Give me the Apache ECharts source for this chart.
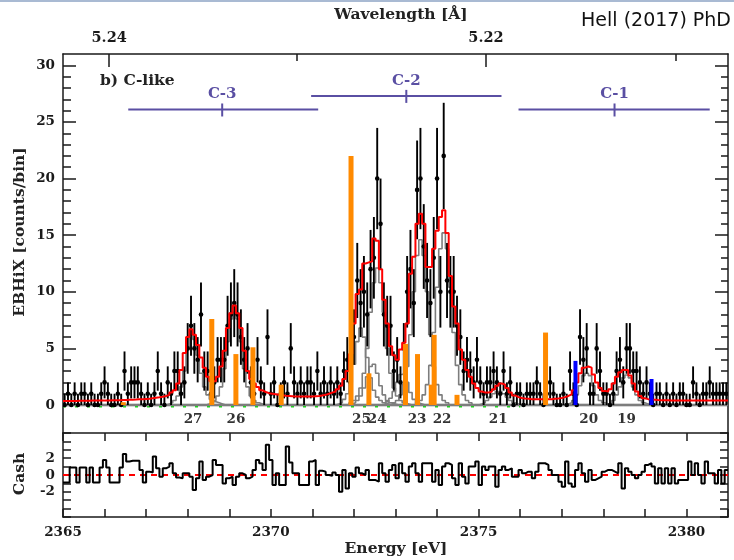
<!DOCTYPE html>
<html>
<head>
<meta charset="utf-8">
<script src="https://cdn.jsdelivr.net/npm/echarts@6/dist/echarts.min.js"></script>
<style>
html,body{margin:0;padding:0;background:#fff;}
#chart{width:734px;height:560px;}
</style>
</head>
<body>
<div id="chart"></div>
<script>
// Binning of the EBHiX spectrum (energy in eV)
const binStart = 2365.0;
const binWidth = 0.08;

// Measured counts per bin
const counts = [
  0,1,0,1,0,1,1,0,1,0,
  0,1,2,1,0,0,1,0,3,1,
  2,2,2,1,0,1,0,1,3,1,
  0,2,1,3,3,1,2,5,7,5,
  4,8,3,3,1,2,4,4,4,7,
  8,9,8,6,4,5,2,1,4,2,
  1,6,1,2,0,1,2,1,5,2,
  1,2,1,2,2,1,3,1,2,1,
  2,1,2,1,3,4,2,6,11,9,
  10,8,12,13,20,16,8,7,7,3,
  4,2,5,10,12,9,19,20,14,11,
  9,13,20,10,22,11,10,10,7,6,
  3,4,3,2,4,2,1,2,2,3,
  2,1,3,1,2,0,1,1,0,1,
  1,1,2,1,0,1,2,1,0,0,
  1,0,3,1,0,6,4,5,1,1,
  5,3,1,1,0,1,3,4,2,5,
  5,3,3,2,1,2,1,0,1,1,
  0,1,0,1,0,1,1,0,0,2,
  1,0,1,1,2,1,1,1,1,1
];

// Total fitted model per bin
const model = [
  0.35,0.35,0.36,0.36,0.37,0.37,0.38,0.38,0.39,0.39,
  0.40,0.40,0.41,0.41,0.42,0.42,0.43,0.44,0.45,0.46,
  0.47,0.48,0.50,0.52,0.54,0.56,0.60,0.64,0.68,0.73,
  0.80,0.90,1.10,1.30,1.90,3.10,4.60,6.00,6.70,6.20,
  5.30,4.20,3.30,2.50,2.10,2.10,2.50,3.40,4.80,6.80,
  8.10,8.80,8.10,6.80,4.80,3.00,2.30,1.90,1.60,1.30,
  1.15,1.05,1.00,0.95,0.90,0.86,0.82,0.80,0.78,0.76,
  0.75,0.75,0.75,0.75,0.76,0.78,0.80,0.85,0.90,1.00,
  1.10,1.20,1.40,1.70,2.30,3.00,4.50,7.20,9.80,10.20,
  12.50,12.60,12.70,14.70,14.50,12.00,9.30,7.20,5.20,4.40,
  4.00,4.90,5.50,7.20,11.60,13.10,16.00,16.90,16.00,12.20,
  12.20,13.80,15.40,16.60,17.20,15.20,11.40,8.70,7.20,4.90,
  4.00,3.10,2.50,1.90,1.50,1.20,1.10,1.10,1.20,1.40,
  1.70,1.90,1.80,1.50,1.10,0.85,0.70,0.62,0.58,0.55,
  0.52,0.50,0.50,0.50,0.50,0.50,0.52,0.55,0.58,0.62,
  0.70,0.80,0.95,1.30,2.00,2.80,3.30,3.40,3.30,2.70,
  2.00,1.50,1.25,1.20,1.40,1.90,2.50,2.90,3.10,3.10,
  2.60,1.90,1.20,0.80,0.60,0.52,0.48,0.46,0.44,0.43,
  0.42,0.42,0.41,0.41,0.40,0.40,0.40,0.40,0.40,0.40,
  0.40,0.40,0.40,0.40,0.40,0.40,0.40,0.40,0.40,0.40
];

// Cash residuals per bin
const residuals = [
  -0.9,-0.9,0.9,0.9,-0.9,0.9,0.9,-0.9,0.9,-0.9,
  -0.9,0.9,1.8,0.9,-0.9,-0.9,-0.9,0.9,2.5,1.6,
  1.7,1.7,1.7,0.6,-0.9,0.4,0.3,2.2,0.8,-0.2,
  0.8,1.0,1.4,0.2,-0.3,-0.4,0.2,0.2,-0.2,-1.8,
  -0.4,1.6,-0.6,-0.2,0.0,1.8,1.2,1.2,-1.0,-0.4,
  -0.2,-1.2,-0.2,0.2,0.0,-0.4,-0.2,0.6,1.8,1.4,
  0.6,3.6,1.8,-1.2,0.2,-1.2,-1.2,3.4,1.5,0.2,
  0.2,-1.2,-1.2,-1.2,1.6,1.8,-1.2,0.5,0.4,0.0,
  -0.1,0.3,0.0,-2.0,0.6,-1.6,0.2,-0.2,0.9,0.2,
  0.0,0.6,-0.6,-0.6,-0.8,1.4,0.2,-0.8,0.6,1.2,
  -0.4,1.4,0.2,-0.8,1.0,1.4,0.2,-0.8,1.4,1.4,
  1.4,-0.8,0.6,-1.2,1.0,1.4,1.2,-0.4,-1.2,1.4,
  -0.2,-1.0,1.0,1.0,1.6,-1.2,1.0,0.6,1.0,1.0,
  -1.4,0.6,1.0,0.6,0.8,-0.2,-0.2,0.6,0.2,0.4,
  0.4,-0.4,0.4,1.4,1.4,1.2,0.6,0.0,0.0,-0.8,
  -1.4,1.6,-1.0,-1.4,0.6,1.4,0.2,-0.8,0.6,-0.6,
  -0.4,-0.2,0.4,0.6,0.6,0.4,0.2,1.4,-1.6,0.8,
  0.4,0.0,-0.4,0.0,0.4,1.2,1.4,1.0,-1.0,0.8,
  -1.0,0.8,-1.0,0.8,-1.0,-0.6,-0.6,-0.6,1.6,0.0,
  1.4,0.0,-1.0,1.6,0.2,0.2,-1.0,0.6,-1.0,0.6
];

// Individual line components: first bin and per-bin values
const componentStart = [31, 43, 82, 86, 86, 96, 99, 106, 125, 151, 163];
const componentValues = [
  [0.1,0.2,0.4,0.8,1.6,3.0,4.9,6.2,5.8,4.4,2.8,1.6,0.9,0.5,0.3,0.2,0.1],
  [0.1,0.2,0.4,0.8,1.6,3.2,5.6,7.6,8.2,7.6,5.6,3.2,1.6,0.8,0.4,0.2,0.1],
  [0.1,0.2,0.5,1.0,2.0,3.6,5.6,6.8,6.0,4.2,2.4,1.3,0.7,0.4,0.2,0.1],
  [0.1,0.2,0.4,0.8,1.5,2.5,3.4,3.6,2.8,1.7,0.9,0.4,0.2,0.1],
  [0.2,0.4,0.8,1.5,2.8,5.0,8.2,10.8,12.1,10.8,8.2,5.0,2.8,1.5,0.8,0.4,0.2,0.1],
  [0.1,0.3,0.6,1.2,2.0,2.7,2.8,2.0,1.1,0.5,0.2,0.1],
  [0.2,0.4,0.9,1.8,3.4,6.2,10.0,13.2,14.6,13.2,10.0,6.2,3.4,1.8,0.9,0.4,0.2],
  [0.2,0.4,0.9,1.8,3.5,6.4,10.4,13.8,15.2,13.8,10.4,6.4,3.5,1.8,0.9,0.4,0.2],
  [0.1,0.2,0.4,0.7,1.0,1.2,1.2,1.0,0.7,0.4,0.2,0.1],
  [0.1,0.2,0.4,0.9,1.7,2.6,2.8,2.6,1.7,0.9,0.4,0.2,0.1],
  [0.1,0.2,0.4,0.9,1.6,2.4,2.65,2.4,1.6,0.9,0.4,0.2,0.1]
];

// Theoretical line positions (eV) and strengths
const orangeE = [2366.45, 2368.58, 2369.16, 2369.57, 2370.25, 2371.93, 2372.36, 2373.24, 2373.53, 2373.86, 2373.93, 2374.48, 2376.61];
const orangeH = [0.25, 7.6, 4.5, 5.1, 1.8, 22.0, 2.8, 5.4, 4.5, 1.8, 6.2, 0.9, 6.4];
const blueE = [2377.33, 2379.16];
const blueH = [3.9, 2.3];

// Line identifications
const lineIds = ['27', '26', '25', '24', '23', '22', '21', '20', '19'];
const lineIdE = [2368.13, 2369.16, 2372.18, 2372.56, 2373.52, 2374.12, 2375.47, 2377.65, 2378.56];
const lineIdY = -1.32;

// Charge-state groups
const groupNames = ['C-3', 'C-2', 'C-1'];
const groupCenter = [2368.83, 2373.26, 2378.27];
const groupLow = [2366.57, 2370.97, 2375.96];
const groupHigh = [2371.14, 2375.55, 2380.56];
const groupLevel = [26.1, 27.3, 26.1];

// Axis ticks
const energyMin = 2365, energyMax = 2381;
const countTicksMajor = [0, 5, 10, 15, 20, 25, 30];
const countTicksMinor = [1,2,3,4,6,7,8,9,11,12,13,14,16,17,18,19,21,22,23,24,26,27,28,29];
const wavelengthMajor = [5.24, 5.22];
const wavelengthMinor = [5.23, 5.21];
const cashLabels = [-2, 0, 2];

const hc = 12398.42; // eV * Angstrom
const serif = '"DejaVu Serif"';
const axisColor = '#1a1a1a';
const groupColor = '#5a4fa3';

function binEdge(i) { return binStart + i * binWidth; }
function binCenter(i) { return binStart + (i + 0.5) * binWidth; }

// Histogram outline: points on left bin edges plus closing right edge
function histogram(values, start) {
  const pts = values.map((v, i) => [binEdge(start + i), v]);
  pts.push([binEdge(start + values.length), values[values.length - 1]]);
  return pts;
}
function padded(start, values) {
  const arr = new Array(counts.length).fill(0);
  values.forEach((v, i) => { arr[start + i] = v; });
  return arr;
}

const chart = echarts.init(document.getElementById('chart'), null, { renderer: 'canvas' });

const tickFont = { fontFamily: serif, fontWeight: 'bold', fontSize: 13.5, color: axisColor };
const tickLine = { color: axisColor, width: 1.5 };

function xAxisDef(grid, position, opts) {
  return Object.assign({
    type: 'value', gridIndex: grid, position: position, min: energyMin, max: energyMax,
    axisLine: { show: true, onZero: false, lineStyle: tickLine },
    axisTick: { show: false },
    axisLabel: { show: false },
    splitLine: { show: false }
  }, opts);
}
function yAxisDef(grid, position, min, max, opts) {
  return Object.assign({
    type: 'value', gridIndex: grid, position: position, min: min, max: max,
    axisLine: { show: true, onZero: false, lineStyle: tickLine },
    axisTick: { show: false },
    axisLabel: { show: false },
    splitLine: { show: false }
  }, opts);
}

const componentSeries = componentValues.map((vals, k) => ({
  type: 'line', xAxisIndex: 0, yAxisIndex: 0, step: 'end', showSymbol: false, silent: true,
  data: histogram(padded(componentStart[k], vals), 0),
  lineStyle: { color: '#7d7d7d', width: 1.6 }, z: 2, clip: true
}));

function barRenderer(width, color) {
  return function (params, api) {
    const e = api.value(0), h = api.value(1);
    const p0 = api.coord([e, 0]);
    const p1 = api.coord([e, h]);
    return {
      type: 'rect',
      shape: { x: p0[0] - width / 2, y: p1[1], width: width, height: p0[1] - p1[1] },
      style: { fill: color }
    };
  };
}

const option = {
  animation: false,
  backgroundColor: '#ffffff',
  grid: [
    { left: 63, right: 6, top: 54, height: 379, containLabel: false },
    { left: 63, right: 6, top: 433, height: 84, containLabel: false }
  ],
  xAxis: [
    xAxisDef(0, 'bottom', { show: false }),
    xAxisDef(0, 'top', {
      axisTick: { show: true, inside: true, length: 13, customValues: wavelengthMajor.map(w => hc / w), lineStyle: tickLine },
      axisLabel: { show: true, margin: 8, customValues: wavelengthMajor.map(w => hc / w), formatter: v => (hc / v).toFixed(2), ...tickFont, fontSize: 14.5 }
    }),
    xAxisDef(0, 'top', {
      axisLine: { show: false, onZero: false },
      axisTick: { show: true, inside: true, length: 7, customValues: wavelengthMinor.map(w => hc / w), lineStyle: tickLine }
    }),
    xAxisDef(1, 'bottom', {
      interval: 1,
      axisTick: { show: true, inside: true, length: 8, lineStyle: tickLine },
      axisLabel: { show: true, margin: 8, formatter: v => (v % 5 === 0 ? String(v) : ''), ...tickFont }
    }),
    xAxisDef(1, 'top', {
      interval: 1,
      axisTick: { show: true, inside: true, length: 8, lineStyle: tickLine }
    })
  ],
  yAxis: [
    yAxisDef(0, 'left', -2.47, 31, {
      axisTick: { show: true, inside: true, length: 13, customValues: countTicksMajor, lineStyle: tickLine },
      axisLabel: { show: true, margin: 8, customValues: countTicksMajor, ...tickFont }
    }),
    yAxisDef(0, 'left', -2.47, 31, {
      axisLine: { show: false, onZero: false },
      axisTick: { show: true, inside: true, length: 8, customValues: countTicksMinor, lineStyle: tickLine }
    }),
    yAxisDef(0, 'right', -2.47, 31, {
      axisTick: { show: true, inside: true, length: 13, customValues: countTicksMajor, lineStyle: tickLine }
    }),
    yAxisDef(0, 'right', -2.47, 31, {
      axisLine: { show: false, onZero: false },
      axisTick: { show: true, inside: true, length: 7, customValues: countTicksMinor, lineStyle: tickLine }
    }),
    yAxisDef(1, 'left', -5, 5, {
      interval: 1,
      axisTick: { show: true, inside: true, length: 8, lineStyle: tickLine },
      axisLabel: { show: true, margin: 8, customValues: cashLabels, ...tickFont }
    }),
    yAxisDef(1, 'right', -5, 5, {
      interval: 1,
      axisTick: { show: true, inside: true, length: 8, lineStyle: tickLine }
    })
  ],
  series: [
    // zero baseline of the components
    {
      type: 'line', xAxisIndex: 0, yAxisIndex: 0, showSymbol: false, silent: true,
      data: [[energyMin, 0], [energyMax, 0]],
      lineStyle: { color: '#5e5e5e', width: 2.5 }, z: 1
    },
    {
      type: 'line', xAxisIndex: 0, yAxisIndex: 0, showSymbol: false, silent: true,
      data: [[energyMin, -0.12], [2376.0, -0.12]],
      lineStyle: { color: '#22cc22', width: 2, type: [3, 9] }, z: 1
    },
    ...componentSeries,
    // measured data with Poisson error bars
    {
      type: 'custom', xAxisIndex: 0, yAxisIndex: 0, silent: true, clip: true, z: 3,
      data: counts.map((n, i) => [binCenter(i), n, n > 0 ? n - Math.sqrt(n) : 0, n > 0 ? n + Math.sqrt(n) : 1]),
      renderItem: function (params, api) {
        const e = api.value(0);
        const p = api.coord([e, api.value(1)]);
        const lo = api.coord([e, api.value(2)]);
        const hi = api.coord([e, api.value(3)]);
        return {
          type: 'group',
          children: [
            { type: 'line', shape: { x1: p[0], y1: lo[1], x2: p[0], y2: hi[1] }, style: { stroke: '#000', lineWidth: 1.9 } },
            { type: 'circle', shape: { cx: p[0], cy: p[1], r: 2.3 }, style: { fill: '#000' } }
          ]
        };
      }
    },
    // total model
    {
      type: 'line', xAxisIndex: 0, yAxisIndex: 0, step: 'end', showSymbol: false, silent: true,
      data: histogram(model, 0),
      lineStyle: { color: '#ff0000', width: 2 }, z: 4
    },
    // theoretical line strengths
    {
      type: 'custom', xAxisIndex: 0, yAxisIndex: 0, silent: true, clip: true, z: 5,
      data: orangeE.map((e, i) => [e, orangeH[i]]),
      renderItem: barRenderer(5, '#ff8a00')
    },
    {
      type: 'custom', xAxisIndex: 0, yAxisIndex: 0, silent: true, clip: true, z: 5,
      data: blueE.map((e, i) => [e, blueH[i]]),
      renderItem: barRenderer(4, '#0000ff')
    },
    // line identification numbers
    {
      type: 'custom', xAxisIndex: 0, yAxisIndex: 0, silent: true, z: 6,
      data: lineIdE.map((e, i) => [e, lineIdY, i]),
      renderItem: function (params, api) {
        const p = api.coord([api.value(0), api.value(1)]);
        return {
          type: 'text', x: p[0], y: p[1],
          style: {
            text: lineIds[api.value(2)], fill: '#333',
            font: 'bold 13.5px ' + serif, align: 'center', verticalAlign: 'middle',
            textAlign: 'center', textVerticalAlign: 'middle'
          }
        };
      }
    },
    // charge-state group markers
    {
      type: 'custom', xAxisIndex: 0, yAxisIndex: 0, silent: true, z: 6,
      data: groupCenter.map((c, i) => [c, groupLevel[i], groupLow[i], groupHigh[i], i]),
      renderItem: function (params, api) {
        const y = api.value(1);
        const pc = api.coord([api.value(0), y]);
        const pl = api.coord([api.value(2), y]);
        const ph = api.coord([api.value(3), y]);
        return {
          type: 'group',
          children: [
            { type: 'line', shape: { x1: pl[0], y1: pl[1], x2: ph[0], y2: ph[1] }, style: { stroke: groupColor, lineWidth: 2 } },
            { type: 'line', shape: { x1: pc[0], y1: pc[1] - 6, x2: pc[0], y2: pc[1] + 7 }, style: { stroke: groupColor, lineWidth: 2 } },
            {
              type: 'text', x: pc[0], y: pc[1] - 15,
              style: {
                text: groupNames[api.value(4)], fill: groupColor,
                font: 'bold 15px ' + serif, align: 'center', verticalAlign: 'middle',
                textAlign: 'center', textVerticalAlign: 'middle'
              }
            }
          ]
        };
      }
    },
    // Cash residuals
    {
      type: 'line', xAxisIndex: 3, yAxisIndex: 4, showSymbol: false, silent: true,
      data: [[energyMin, 0], [energyMax, 0]],
      lineStyle: { color: '#ff0000', width: 2, type: [6, 5] }, z: 2
    },
    {
      type: 'line', xAxisIndex: 3, yAxisIndex: 4, step: 'end', showSymbol: false, silent: true,
      data: histogram(residuals, 0),
      lineStyle: { color: '#000', width: 2 }, z: 3
    }
  ],
  graphic: [
    { type: 'rect', left: 0, top: 0, shape: { width: 734, height: 2 }, style: { fill: '#a9bad3' } },
    {
      type: 'text', x: 731, y: 21,
      style: { text: 'Hell (2017) PhD', font: '19px "DejaVu Sans"', fill: '#111', align: 'right', verticalAlign: 'middle', textAlign: 'right', textVerticalAlign: 'middle' }
    },
    {
      type: 'text', x: 401, y: 15,
      style: { text: 'Wavelength [Å]', font: 'bold 15.5px ' + serif, fill: '#222', align: 'center', verticalAlign: 'middle', textAlign: 'center', textVerticalAlign: 'middle' }
    },
    {
      type: 'text', x: 100, y: 81,
      style: { text: 'b) C-like', font: 'bold 15.5px ' + serif, fill: '#222', align: 'left', verticalAlign: 'middle', textAlign: 'left', textVerticalAlign: 'middle' }
    },
    {
      type: 'text', x: 20, y: 232, rotation: Math.PI / 2,
      style: { text: 'EBHiX [counts/bin]', font: 'bold 15.5px ' + serif, fill: '#222', align: 'center', verticalAlign: 'middle', textAlign: 'center', textVerticalAlign: 'middle' }
    },
    {
      type: 'text', x: 20, y: 474, rotation: Math.PI / 2,
      style: { text: 'Cash', font: 'bold 15.5px ' + serif, fill: '#222', align: 'center', verticalAlign: 'middle', textAlign: 'center', textVerticalAlign: 'middle' }
    },
    {
      type: 'text', x: 396, y: 549,
      style: { text: 'Energy [eV]', font: 'bold 15.5px ' + serif, fill: '#222', align: 'center', verticalAlign: 'middle', textAlign: 'center', textVerticalAlign: 'middle' }
    }
  ]
};

chart.setOption(option);
</script>
</body>
</html>
